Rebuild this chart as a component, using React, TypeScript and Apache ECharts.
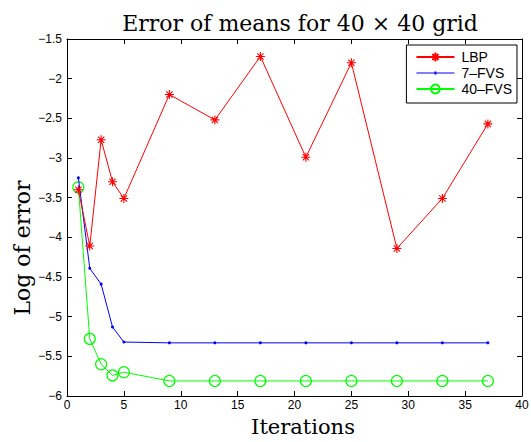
import React, { useEffect, useRef } from "react";
import * as echarts from "echarts";

const iterations = [1, 2, 3, 4, 5, 9, 13, 17, 21, 25, 29, 33, 37];
const lbp = [-3.40, -4.11, -2.77, -3.30, -3.51, -2.20, -2.52, -1.72, -2.99, -1.80, -4.14, -3.51, -2.57];
const fvs7 = [-3.25, -4.39, -4.59, -5.13, -5.32, -5.33, -5.33, -5.33, -5.33, -5.33, -5.33, -5.33, -5.33];
const fvs40 = [-3.37, -5.28, -5.60, -5.74, -5.70, -5.81, -5.81, -5.81, -5.81, -5.81, -5.81, -5.81, -5.81];
const seriesNames = ["LBP", "7\u2013FVS", "40\u2013FVS"];

const pair = (ys: number[]) => iterations.map((x, i) => [x, ys[i]]);
const fmt = (v: number) => String(v).replace("-", "\u2212");

const STAR = "path://M0,-10L0,10M-10,0L10,0M-7,-7L7,7M-7,7L7,-7";
const DOT_ICON =
  "path://M19,0L19.01,0L19,0.01Z M19,11L19.01,11L19,10.99Z M0,5L38,5L38,6L0,6Z M18,4L20,4L20,7L18,7Z";
const SERIF = "DejaVu Serif";

export default function App() {
  const ref = useRef<HTMLDivElement>(null);
  useEffect(() => {
    if (!ref.current) return;
    const chart = echarts.init(ref.current, undefined, { renderer: "svg" });
    const axisCommon = {
      axisLine: { show: true, onZero: false, lineStyle: { color: "#000", width: 1 } },
      axisTick: { show: true, inside: true, length: 5, lineStyle: { color: "#000" } },
      splitLine: { show: false },
    };
    chart.setOption({
      animation: false,
      backgroundColor: "#fff",
      title: {
        text: "Error of means for 40 \u00d7 40 grid",
        left: 295,
        textAlign: "center",
        top: 7,
        textStyle: { fontFamily: SERIF, fontSize: 22, fontWeight: "normal", color: "#000" },
      },
      graphic: [
        {
          type: "text",
          x: 303,
          y: 427,
          style: {
            text: "Iterations",
            fontFamily: SERIF,
            fontSize: 21,
            fill: "#000",
            align: "center",
            verticalAlign: "middle",
          },
        },
        {
          type: "text",
          x: 22,
          y: 248,
          rotation: Math.PI / 2,
          style: {
            text: "Log of error",
            fontFamily: SERIF,
            fontSize: 22,
            fill: "#000",
            align: "center",
            verticalAlign: "middle",
          },
        },
      ],
      grid: { left: 67, right: 9, top: 39, bottom: 46, outerBoundsMode: "none" },
      legend: {
        right: 14,
        top: 45,
        orient: "vertical",
        backgroundColor: "#fff",
        borderColor: "#000",
        borderWidth: 1,
        borderRadius: 0,
        padding: [5, 5, 7, 9],
        itemGap: 2,
        itemWidth: 38,
        itemHeight: 11,
        textStyle: { fontFamily: "Liberation Sans", fontSize: 14, color: "#000", padding: [0, 0, 0, 2] },
        data: [
          { name: seriesNames[0] },
          { name: seriesNames[1], icon: DOT_ICON },
          { name: seriesNames[2] },
        ],
      },
      xAxis: [
        {
          type: "value",
          min: 0,
          max: 40,
          interval: 5,
          position: "bottom",
          axisLabel: { margin: 3, fontFamily: "Liberation Sans", fontSize: 12, color: "#000", formatter: fmt },
          ...axisCommon,
        },
        {
          type: "value",
          min: 0,
          max: 40,
          interval: 5,
          position: "top",
          axisLabel: { show: false },
          ...axisCommon,
        },
      ],
      yAxis: [
        {
          type: "value",
          min: -6,
          max: -1.5,
          interval: 0.5,
          position: "left",
          axisLabel: { margin: 5, fontFamily: "Liberation Sans", fontSize: 12, color: "#000", formatter: fmt },
          ...axisCommon,
        },
        {
          type: "value",
          min: -6,
          max: -1.5,
          interval: 0.5,
          position: "right",
          axisLabel: { show: false },
          ...axisCommon,
        },
      ],
      series: [
        {
          name: seriesNames[0],
          type: "line",
          data: pair(lbp),
          symbol: STAR,
          symbolSize: 9,
          lineStyle: { color: "#ff0000", width: 1 },
          itemStyle: { color: "none", borderColor: "#ff0000", borderWidth: 1.1 },
          z: 3,
        },
        {
          name: seriesNames[1],
          type: "line",
          data: pair(fvs7),
          symbol: "circle",
          symbolSize: 3,
          lineStyle: { color: "#0000ff", width: 1 },
          itemStyle: { color: "#0000ff", borderWidth: 0 },
          z: 2,
        },
        {
          name: seriesNames[2],
          type: "line",
          data: pair(fvs40),
          symbol: "circle",
          symbolSize: 11,
          lineStyle: { color: "#00ff00", width: 1 },
          itemStyle: { color: "none", borderColor: "#00ff00", borderWidth: 1.2 },
          z: 1,
        },
      ],
    });
    return () => chart.dispose();
  }, []);
  return <div ref={ref} style={{ width: 531, height: 442, position: "absolute", left: 0, top: 0 }} />;
}
